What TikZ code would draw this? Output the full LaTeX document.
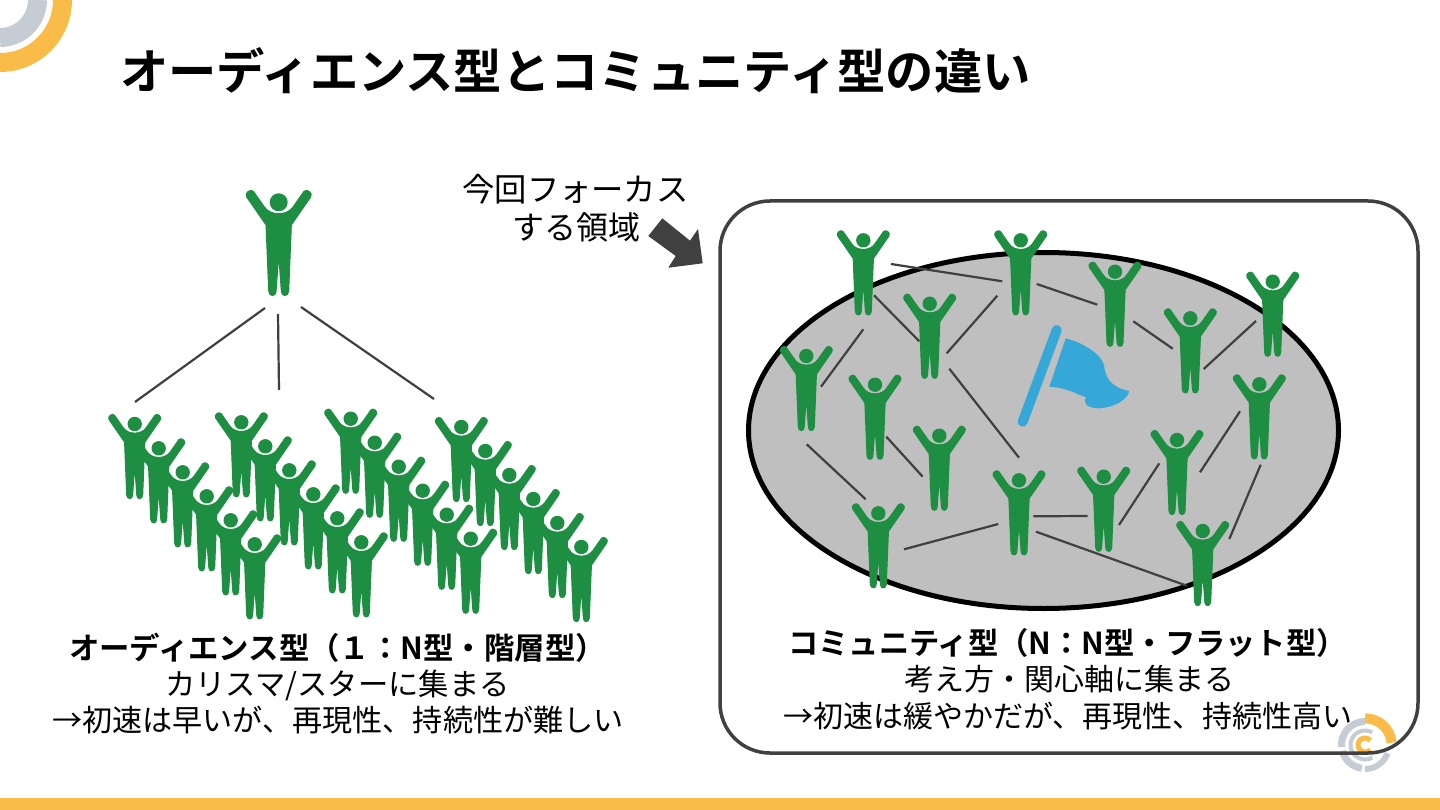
\documentclass[tikz,border=0pt]{standalone}
\usepackage{fontspec}
\setmainfont{Noto Sans CJK JP}
\newfontfamily\jpbold{Noto Sans CJK JP Bold}
\definecolor{figgreen}{HTML}{1E8E43}
\definecolor{ringorange}{HTML}{F9BC48}
\definecolor{ringgrey}{HTML}{C5CCD4}
\definecolor{inkgrey}{HTML}{404040}
\definecolor{flagblue}{HTML}{35A8D8}
\definecolor{fieldgrey}{HTML}{BFBFBF}
\tikzset{
  linkline/.style={draw=inkgrey,line width=2.2pt},
  txt/.style={anchor=base,inner sep=0pt,text=black},
  arcband/.style={line cap=butt},
}
\newcommand\figA[3]{%
  \begin{scope}[shift={(#1,#2)},x=#3pt,y=-#3pt]
    \fill[figgreen] (0,0) circle[radius=27];
    \filldraw[figgreen,line width=1pt,line join=round] (-76,-33) -- (-43,14) .. controls (-25,41) and (25,41) .. (43,14)
      -- (76,-33) .. controls (84,-42) and (104,-28) .. (96,-16) -- (38,68) -- (30,266)
      .. controls (29,284) and (9,284) .. (8,268) -- (1.5,178) -- (-1.5,178) -- (-8,268)
      .. controls (-9,284) and (-29,284) .. (-30,266) -- (-38,68) -- (-96,-16)
      .. controls (-104,-28) and (-84,-42) .. (-76,-33) -- cycle;
  \end{scope}}
\newcommand\linkA[5]{%
  \coordinate (#1a) at (#2,#3);
  \coordinate (#1b) at (#4,#5);
  \draw[linkline] (#1a) -- (#1b);}
\newcommand\bandA[5]{\draw[arcband,#5,line width=#4pt] (#1:#3) arc[start angle=#1,end angle=#2,radius=#3];}
\begin{document}
\begin{tikzpicture}[x=1pt,y=-1pt]
\path[use as bounding box,fill=white] (0,0) rectangle (1440,810);
% bottom bar
\fill[ringorange] (0,798) rectangle (1440,810);
% corner logo
\begin{scope}[x=1pt,y=1pt]
  \bandA{0}{-90}{62.5}{19}{ringorange}
  \bandA{0}{-90}{37.5}{19}{ringgrey}
\end{scope}
% small logo
\begin{scope}[shift={(1365,745)},x=1pt,y=1pt]
  \bandA{90}{5}{26.7}{10}{ringorange}
  \bandA{90}{185}{23.5}{7}{ringgrey}
  \bandA{195}{262}{23.5}{7}{ringgrey}
  \bandA{-90}{-20}{24}{6}{ringgrey}
  \bandA{60}{300}{14.5}{4}{ringgrey}
  \bandA{40}{320}{7}{5}{ringorange}
\end{scope}
% title
\node[txt,anchor=base west,font=\jpbold\fontsize{48.3}{48}\selectfont] (title) at (120,90) {オーディエンス型とコミュニティ型の違い};
% frame and field
\draw[inkgrey,line width=3.5pt,rounded corners=50pt] (720,201) rectangle (1418,753);
\draw[black,fill=fieldgrey,line width=5pt] (1043.5,430.5) ellipse[x radius=295,y radius=178];
% callout
\node[txt,font=\fontsize{32.3}{32}\selectfont] (calloutA) at (575.5,202) {今回フォーカス};
\node[txt,font=\fontsize{32}{32}\selectfont] (calloutB) at (576.5,240) {する領域};
\fill[inkgrey] (662.3,218.3) -- (648.3,236) -- (675.7,256) -- (668.3,267.7) -- (702.7,263.3) -- (698,229) -- (690,240.7) -- cycle;
% flag
\draw[flagblue,line width=10pt,line cap=round] (1056.7,330) -- (1022.7,421.7);
\fill[flagblue] (1065.7,338.3) .. controls (1080,342) and (1100,352) .. (1104,365)
  .. controls (1105,378) and (1112,388) .. (1129.3,391)
  .. controls (1127,400) and (1115,407) .. (1100,408.3)
  .. controls (1092,408.5) and (1082,406) .. (1086,397.3)
  .. controls (1076,394) and (1068,388) .. (1049.3,386.7) -- cycle;
% left connectors
\linkA{la}{265}{308}{135}{402}
\linkA{lb}{278}{314}{279}{390}
\linkA{lc}{301}{307}{434}{399}
% right connectors
\linkA{ra}{891}{264}{1002.3}{281.3}
\linkA{rb}{874}{295.3}{919.3}{341.3}
\linkA{rc}{863.3}{329.3}{821}{386.7}
\linkA{rd}{997.3}{295.7}{946.7}{353.3}
\linkA{re}{949.3}{368.7}{1019}{457.7}
\linkA{rf}{1036.7}{284}{1097.3}{304.7}
\linkA{rg}{1133.3}{321.3}{1172.7}{348.7}
\linkA{rh}{1256}{321}{1203.7}{369}
\linkA{ri}{1240}{411.3}{1200}{472.3}
\linkA{rj}{1260.7}{464.7}{1229.3}{539}
\linkA{rk}{1159.3}{463.3}{1119}{525}
\linkA{rl}{1087.7}{516}{1033.3}{516.3}
\linkA{rm}{1036}{531.7}{1186.7}{585.7}
\linkA{rn}{998.3}{524}{904}{549.3}
\linkA{ro}{806.7}{444.3}{865.7}{499.3}
\linkA{rp}{886.3}{436.7}{922.7}{476.7}
% big figure
\figA{278.7}{202.3}{0.3333}
% crowd: later rows are behind earlier ones
\foreach \px/\py in {
  581.3/547,557.3/523,533.3/499,509.3/475,485.3/451,461.3/427,
  470.7/538.7,446.7/514.7,422.7/490.7,398.7/466.7,374.7/442.7,350.7/418.7,
  361.3/542.3,337.3/518.3,313.3/494.3,289.3/470.3,265.3/446.3,241.3/422.3,
  254.7/544.3,230.7/520.3,206.7/496.3,182.7/472.3,158.7/448.3,134.7/424}
  {\figA{\px}{\py}{0.2667}}
% community
\foreach \px/\py in {
  863.3/240.3,1020.7/240.3,929.7/303.7,806.3/356,875/384.7,
  1115/271.7,1190.3/318.3,1272.7/281.7,1259.3/384.3,1177/440,
  939.3/435.7,878.3/513.3,1019/480.3,1103.7/476.7,1202.7/531}
  {\figA{\px}{\py}{0.2667}}
% captions
\node[txt,font=\jpbold\fontsize{30.4}{30}\selectfont] (leftA) at (337.5,659) {オーディエンス型（１：N型・階層型）};
\node[txt,font=\fontsize{30.3}{30}\selectfont] (leftB) at (337.5,695) {カリスマ/スターに集まる};
\node[txt,font=\fontsize{30.1}{30}\selectfont] (leftC) at (338,731) {→初速は早いが、再現性、持続性が難しい};
\node[txt,font=\jpbold\fontsize{30.3}{30}\selectfont] (rightA) at (1067.5,654) {コミュニティ型（N：N型・フラット型）};
\node[txt,font=\fontsize{30}{30}\selectfont] (rightB) at (1069,690) {考え方・関心軸に集まる};
\node[txt,font=\fontsize{30}{30}\selectfont] (rightC) at (1068,727) {→初速は緩やかだが、再現性、持続性高い};
\end{tikzpicture}
\end{document}
